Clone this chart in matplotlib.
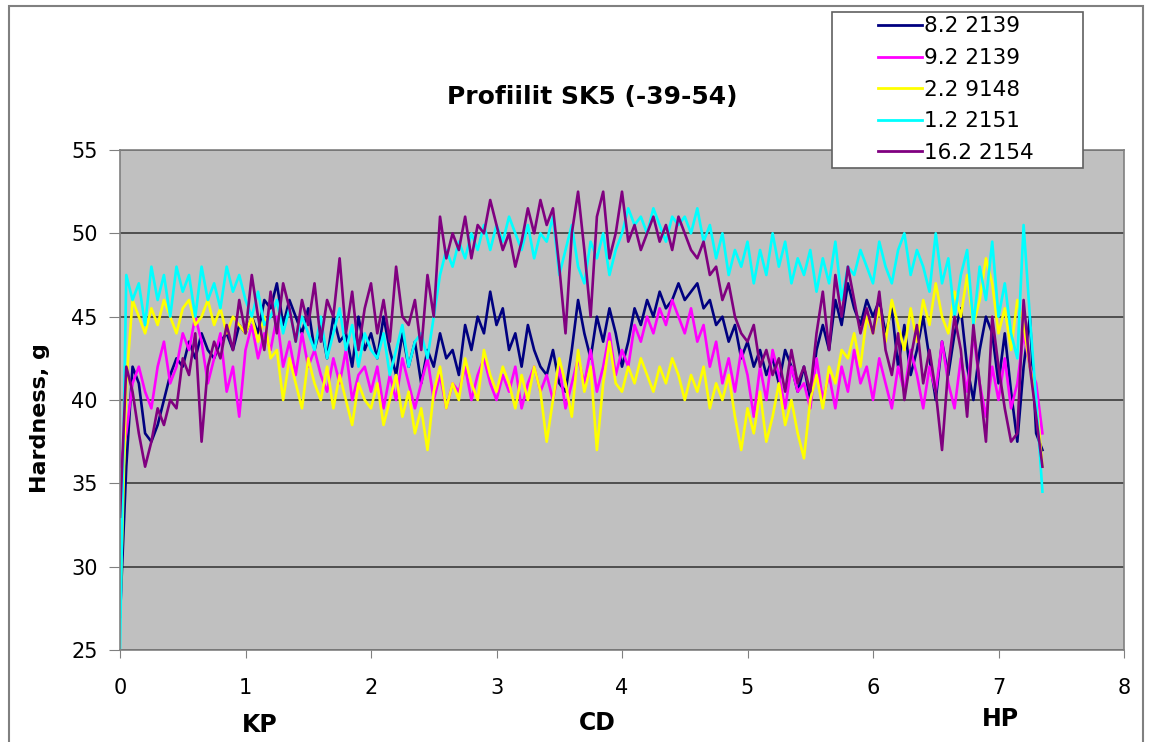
import numpy as np
import matplotlib.pyplot as plt
from matplotlib.patches import Rectangle

# Hardness profiles, one reading every 0.05 along the profile (0 .. 7.35)
step = 0.05

s_8_2_2139 = [27, 36, 42, 41, 38, 37.5, 38.5, 40, 41.5, 42.5,
              42, 43.5, 42.5, 44, 43, 42.5, 43.5, 44, 43, 44.5,
              44, 45, 44, 46, 45.5, 47, 44.5, 46, 45, 44,
              45.5, 43, 44.5, 42.5, 45, 43.5, 44, 42, 45, 43,
              44, 42.5, 45, 43, 41.5, 44, 42, 43.5, 41, 43,
              42, 44, 42.5, 43, 41.5, 44.5, 43, 45, 44, 46.5,
              44.5, 45.5, 43, 44, 42, 44.5, 43, 42, 41.5, 43,
              41, 40.5, 43, 46, 44, 42.5, 45, 43.5, 45.5, 44,
              42, 43.5, 45.5, 44.5, 46, 45, 46.5, 45.5, 46, 47,
              46, 46.5, 47, 45.5, 46, 44.5, 45, 43.5, 44.5, 42.5,
              43.5, 42, 43, 41.5, 42.5, 41, 43, 42, 40.5, 42,
              40, 43, 44.5, 43, 46, 44.5, 47, 45.5, 44.5, 46,
              45, 46, 44, 45.5, 42, 44.5, 41.5, 43, 45, 42.5,
              40, 43.5, 41.5, 44, 45.5, 42, 40, 43, 45, 44,
              41, 44, 40.5, 37.5, 42, 45, 38, 37]

s_9_2_2139 = [36, 38, 41, 42, 40.5, 39.5, 42, 43.5, 41, 42,
              44, 43, 45, 43.5, 41, 42.5, 44, 40.5, 42, 39,
              43, 44.5, 42.5, 44, 43, 45, 42, 43.5, 41.5, 44,
              42, 43, 41.5, 40.5, 42.5, 41, 43, 40, 41.5, 42,
              40.5, 42, 39.5, 41.5, 40, 42.5, 41, 39.5, 41, 42.5,
              40, 41.5, 39.5, 41, 40.5, 42, 40, 41.5, 42.5, 41,
              40, 41.5, 40.5, 42, 39.5, 41, 42, 40.5, 41.5, 40,
              42, 39.5, 41, 42.5, 41, 43, 40.5, 42, 44, 41.5,
              43, 42, 44.5, 43.5, 45, 44, 45.5, 44.5, 46, 45,
              44, 45.5, 43.5, 44.5, 42, 43.5, 41, 42.5, 40.5, 43,
              41.5, 39, 42, 40, 43, 41.5, 39.5, 42, 40.5, 41,
              39.5, 42.5, 40, 41.5, 39.5, 42, 40.5, 43, 41, 42,
              40, 42.5, 41, 39.5, 42, 40.5, 43, 41.5, 39.5, 42,
              40.5, 43.5, 41, 39.5, 42.5, 40.5, 44, 41, 39, 42,
              40, 42.5, 39.5, 41, 44, 42, 41, 38]

s_2_2_9148 = [27, 41, 46, 45, 44, 45.5, 44.5, 46, 45, 44,
              45.5, 46, 44.5, 45, 46, 44.5, 45.5, 44, 45, 44.5,
              44, 45, 43.5, 45, 42.5, 43, 40, 42.5, 41, 39.5,
              42.5, 41, 40, 42, 39.5, 41.5, 40, 38.5, 41, 40,
              39.5, 41, 38.5, 40, 41.5, 39, 40.5, 38, 39.5, 37,
              40.5, 42, 39.5, 41, 40, 42.5, 41, 40, 43, 41.5,
              40.5, 42, 41, 39.5, 41.5, 40, 42, 40.5, 37.5, 40,
              42.5, 41, 39, 43, 40.5, 42, 37, 41, 43.5, 41,
              40.5, 42, 41, 42.5, 41.5, 40.5, 42, 41, 42.5, 41.5,
              40, 41.5, 40.5, 42, 39.5, 41, 40, 41.5, 39, 37,
              39.5, 38, 40.5, 37.5, 39, 41, 38.5, 40, 38, 36.5,
              40, 41.5, 39.5, 42, 41, 43, 42.5, 44, 42, 45,
              44, 45.5, 43.5, 46, 44.5, 43, 45.5, 43.5, 46, 44.5,
              47, 45, 44, 46.5, 45, 47.5, 44.5, 46, 48.5, 47,
              44, 45.5, 43, 46, 44.5, 42, 40, 36]

s_1_2_2151 = [25, 47.5, 46, 47, 44.5, 48, 46, 47.5, 45, 48,
              46.5, 47.5, 45, 48, 46, 47, 45.5, 48, 46.5, 47.5,
              46, 45, 46.5, 44.5, 45, 46, 44, 45.5, 43.5, 45,
              44, 43, 45, 42.5, 44, 45.5, 43, 44.5, 42, 44,
              43, 42.5, 44, 41.5, 43, 44.5, 42, 43.5, 44, 42.5,
              45, 47.5, 49, 48, 49.5, 48.5, 50, 49, 50.5, 49,
              50.5, 49.5, 51, 50, 49, 50.5, 48.5, 50, 49.5, 51,
              47.5, 49, 50.5, 48, 47, 49.5, 48.5, 50, 47.5, 49,
              50, 51.5, 50.5, 51, 50, 51.5, 50.5, 49.5, 51, 50.5,
              51, 50, 51.5, 49.5, 50.5, 48.5, 50, 47.5, 49, 48,
              49.5, 47, 49, 47.5, 50, 48, 49.5, 47, 48.5, 47.5,
              49, 46.5, 48.5, 47, 49.5, 46, 48, 47.5, 49, 48,
              47, 49.5, 48, 47, 49, 50, 47.5, 49, 48, 46.5,
              50, 47, 48.5, 45, 47.5, 49, 44.5, 48, 46, 49.5,
              45, 47, 44, 42.5, 50.5, 45, 40, 34.5]

s_16_2_2154 = [33, 42, 40.5, 38, 36, 37.5, 39.5, 38.5, 40, 39.5,
               42.5, 41.5, 44, 37.5, 42, 43.5, 42.5, 44.5, 43, 46,
               44, 47.5, 45, 43, 46.5, 44, 47, 45.5, 43.5, 46,
               44.5, 47, 43.5, 46, 45, 48.5, 44, 46.5, 43, 45.5,
               47, 44, 46, 43.5, 48, 45, 44.5, 46, 43, 47.5,
               45, 51, 48.5, 50, 49, 51, 48.5, 50.5, 50, 52,
               50.5, 49, 50, 48, 49.5, 51.5, 50, 52, 50.5, 51.5,
               48, 44, 50, 52.5, 49, 45, 51, 52.5, 48.5, 50,
               52.5, 49.5, 50.5, 49, 50, 51, 49.5, 50.5, 49, 51,
               50, 49, 48.5, 49.5, 47.5, 48, 46, 47, 45, 44,
               43.5, 44.5, 42, 43, 41.5, 42.5, 40.5, 43, 41, 42,
               40.5, 44, 46.5, 43, 47.5, 45, 48, 46, 44, 45.5,
               44, 46.5, 43, 41.5, 44, 40, 42.5, 44.5, 41, 43,
               40.5, 37, 42, 45, 43, 39, 44.5, 41, 37.5, 45,
               42, 39.5, 37.5, 38, 46, 42, 39, 36]

labels = ['8.2 2139', '9.2 2139', '2.2 9148', '1.2 2151', '16.2 2154']
colors = ['#000080', '#FF00FF', '#FFFF00', '#00FFFF', '#800080']
series = [s_8_2_2139, s_9_2_2139, s_2_2_9148, s_1_2_2151, s_16_2_2154]

fig = plt.figure(figsize=(11.49, 7.42), dpi=100)
ax = fig.add_axes([120/1149, 1 - 650/742, 1004/1149, 500/742])
ax.set_facecolor('#C0C0C0')

for vals, c, lab in zip(series, colors, labels):
    x = np.arange(len(vals)) * step
    ax.plot(x, vals, color=c, lw=1.9, label=lab)

ax.set_xlim(0, 8)
ax.set_ylim(25, 55)
ax.set_xticks(range(0, 9))
ax.set_yticks(range(25, 56, 5))
ax.yaxis.grid(True, color='#303030', lw=1.1)
ax.set_axisbelow(True)
for s in ax.spines.values():
    s.set_color('#808080')
    s.set_linewidth(1.2)
ax.tick_params(axis='x', direction='out', length=6, pad=14, labelsize=15,
               color='#808080')
ax.tick_params(axis='y', direction='out', length=8, pad=8, labelsize=15,
               color='#808080')

fig.text(592/1149, 1 - 97/742, 'Profiilit SK5 (-39-54)', ha='center',
         va='center', fontsize=18, fontweight='bold')
fig.text(40/1149, 1 - 418/742, 'Hardness, g', rotation=90, ha='center',
         va='center', fontsize=16, fontweight='bold')
for txt, px, py in [('KP', 260, 725), ('CD', 597, 723), ('HP', 1000, 719)]:
    fig.text(px/1149, 1 - py/742, txt, ha='center', va='center',
             fontsize=17, fontweight='bold')

# legend box drawn separately so the entries can sit off-centre in it
fig.patches.append(Rectangle((832/1149, 1 - 168/742), 251/1149, 156/742,
                             transform=fig.transFigure, facecolor='white',
                             edgecolor='#606060', lw=1.2, zorder=5))
leg = fig.legend(loc='upper left', bbox_to_anchor=(872/1149, 1 - 10/742),
                 fontsize=15.5, frameon=False, handlelength=2.0,
                 handletextpad=0.1, labelspacing=0.54, borderpad=0.3,
                 borderaxespad=0)
leg.set_zorder(6)
for h in leg.get_lines():
    h.set_linewidth(2)

# outer chart border
fig.patches.append(Rectangle((9/1149, -0.05), 1134/1149, 1.05 - 6/742,
                             transform=fig.transFigure, fill=False,
                             edgecolor='#808080', lw=1.5))

fig.savefig('out.png', dpi=100)
